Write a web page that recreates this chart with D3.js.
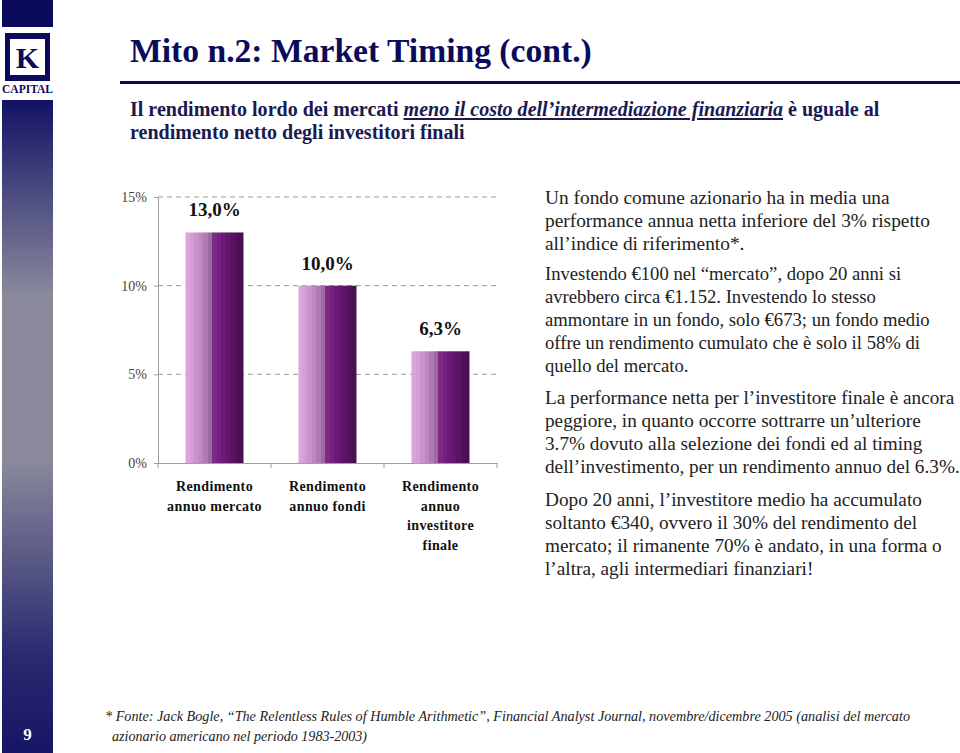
<!DOCTYPE html>
<html><head><meta charset="utf-8">
<script src="https://cdn.jsdelivr.net/npm/d3@7"></script>
<style>html,body{margin:0;padding:0;background:#fff;overflow:hidden} text{font-family:'Liberation Serif','Times New Roman',Times,serif}</style>
</head><body>
<svg id="c" width="960" height="753"></svg>
<script>
// ---- data ----
const categories = ["Rendimento\nannuo mercato", "Rendimento\nannuo fondi", "Rendimento\nannuo\ninvestitore\nfinale"];
const values = [13.0, 10.0, 6.3];
const valueLabels = ["13,0%", "10,0%", "6,3%"];
const yTicks = [0, 5, 10, 15];
const yTickLabels = ["0%", "5%", "10%", "15%"];

const navy = "#0b0b5c";
const FONT = "'Liberation Serif','Times New Roman',Times,serif";
const svg = d3.select("#c");
const defs = svg.append("defs");

// sidebar gradient
const sg = defs.append("linearGradient").attr("id","side").attr("x1",0).attr("y1",0).attr("x2",0).attr("y2",1);
[[0,"#121266"],[0.3,"#8a8a9c"],[0.55,"#8a8a9c"],[0.85,"#2a2a70"],[1,"#151565"]].forEach(s=>sg.append("stop").attr("offset",s[0]).attr("stop-color",s[1]));

// bar gradient (stripes)
const bg = defs.append("linearGradient").attr("id","bar").attr("x1",0).attr("y1",0).attr("x2",1).attr("y2",0);
const stripes = ["#dca4de","#d59cd8","#c992cc","#bd88c0","#ad7ab2","#9e6aa2","#7c2a84","#742080","#6c1a76","#62166c","#5a1464","#52105a","#4a0e52"];
stripes.forEach((c,i)=>{
  bg.append("stop").attr("offset",i/stripes.length).attr("stop-color",c);
  bg.append("stop").attr("offset",(i+1)/stripes.length).attr("stop-color",c);
});

// ---- sidebar / logo ----
svg.append("rect").attr("x",2).attr("y",0).attr("width",51).attr("height",27).attr("fill",navy);
svg.append("rect").attr("x",5).attr("y",33).attr("width",45).attr("height",48).attr("fill",navy);
svg.append("rect").attr("x",10).attr("y",39).attr("width",35).attr("height",36).attr("fill","#fff");
svg.append("text").attr("x",27.5).attr("y",68).attr("text-anchor","middle").attr("font-family",FONT).attr("font-weight","bold").attr("font-size",30).attr("fill",navy).text("K");
svg.append("text").attr("x",27.5).attr("y",93).attr("text-anchor","middle").attr("font-family",FONT).attr("font-weight","bold").attr("font-size",11.5).attr("fill",navy).text("CAPITAL");
svg.append("rect").attr("x",2).attr("y",100).attr("width",51).attr("height",653).attr("fill","url(#side)");
svg.append("text").attr("x",27.5).attr("y",740).attr("text-anchor","middle").attr("font-family",FONT).attr("font-weight","bold").attr("font-size",17).attr("fill","#fff").text("9");

function fit(sel, w){
  const n = sel.node(); const fs = parseFloat(sel.attr("font-size"));
  const m = n.getComputedTextLength(); sel.attr("font-size", fs*w/m);
}

// ---- title ----
const title = svg.append("text").attr("x",130).attr("y",62).attr("font-family",FONT).attr("font-weight","bold").attr("font-size",34).attr("fill",navy).text("Mito n.2: Market Timing (cont.)");
fit(title, 462);
svg.append("rect").attr("x",120).attr("y",81).attr("width",840).attr("height",3).attr("fill",navy);

const sub1 = svg.append("text").attr("x",130).attr("y",116).attr("font-family",FONT).attr("font-weight","bold").attr("font-size",18).attr("fill","#1a1a50");
sub1.append("tspan").text("Il rendimento lordo dei mercati ");
sub1.append("tspan").attr("font-style","italic").attr("text-decoration","underline").text("meno il costo dell’intermediazione finanziaria");
sub1.append("tspan").text(" è uguale al");
fit(sub1, 750);
svg.append("text").attr("x",130).attr("y",139).attr("font-family",FONT).attr("font-weight","bold").attr("font-size",sub1.attr("font-size")).attr("fill","#1a1a50").text("rendimento netto degli investitori finali");

// ---- chart ----
const x = d3.scaleBand().domain(categories).range([158,497]).paddingInner(0.487).paddingOuter(0.2435);
const y = d3.scaleLinear().domain([0,15]).range([463,197]);
const g = svg.append("g");

g.selectAll("line.grid").data(yTicks.filter(d=>d>0)).join("line")
  .attr("x1",158).attr("x2",497).attr("y1",d=>y(d)).attr("y2",d=>y(d))
  .attr("stroke","#9a9a9a").attr("stroke-width",1).attr("stroke-dasharray","5,4");

const ya = g.append("g").attr("transform","translate(158,0)").call(d3.axisLeft(y).tickValues(yTicks).tickFormat((d,i)=>yTickLabels[i]).tickSize(4).tickPadding(7));
ya.select(".domain").attr("stroke","#a0a0a0");
ya.selectAll(".tick line").attr("stroke","#a0a0a0");
ya.selectAll(".tick text").attr("font-family",FONT).attr("font-size",14).attr("fill","#444");

const xa = g.append("g").attr("transform","translate(0,463)").call(d3.axisBottom(x).tickSize(0).tickFormat(""));
xa.select(".domain").attr("stroke","#a0a0a0");
const bounds = [158, 158+113, 158+226, 497];
g.selectAll("line.xt").data(bounds).join("line").attr("x1",d=>d).attr("x2",d=>d).attr("y1",463).attr("y2",468).attr("stroke","#a0a0a0");

g.selectAll("rect.bar").data(values).join("rect")
  .attr("x",(d,i)=>x(categories[i])).attr("width",x.bandwidth())
  .attr("y",d=>y(d)).attr("height",d=>y(0)-y(d)).attr("fill","url(#bar)");

g.selectAll("text.val").data(values).join("text")
  .attr("x",(d,i)=>x(categories[i])+x.bandwidth()/2).attr("y",d=>y(d)-16)
  .attr("text-anchor","middle").attr("font-family",FONT).attr("font-weight","bold").attr("font-size",19).attr("fill","#111")
  .text((d,i)=>valueLabels[i]);

categories.forEach((c,i)=>{
  const t = g.append("text").attr("text-anchor","middle").attr("font-family",FONT).attr("font-weight","bold").attr("font-size",14).attr("letter-spacing",0.4).attr("fill","#111");
  c.split("\n").forEach((ln,j)=>t.append("tspan").attr("x",x(c)+x.bandwidth()/2).attr("y",491+j*19.5).text(ln));
});

// ---- right text ----
const paras = [
  {y:204, lh:23, fs:17, lines:["Un fondo comune azionario ha in media una","performance annua netta inferiore del 3% rispetto","all’indice di riferimento*."]},
  {y:280, lh:23, fs:17, lines:["Investendo €100 nel “mercato”, dopo 20 anni si","avrebbero circa €1.152. Investendo lo stesso","ammontare in un fondo, solo €673; un fondo medio","offre un rendimento cumulato che è solo il 58% di","quello del mercato."]},
  {y:404, lh:23, fs:17, lines:["La performance netta per l’investitore finale è ancora","peggiore, in quanto occorre sottrarre un’ulteriore","3.7% dovuto alla selezione dei fondi ed al timing","dell’investimento, per un rendimento annuo del 6.3%."]},
  {y:506, lh:23, fs:18, lines:["Dopo 20 anni, l’investitore medio ha accumulato","soltanto €340, ovvero il 30% del rendimento del","mercato; il rimanente 70% è andato, in una forma o","l’altra, agli intermediari finanziari!"]}
];
const widthRef = [385, 385, 415, 397];
const refLine = [1, 2, 3, 2];
paras.forEach((p,k)=>{
  const t = svg.append("text").attr("font-family",FONT).attr("font-size",p.fs).attr("fill","#222");
  const sp = p.lines.map((ln,j)=>t.append("tspan").attr("x",545).attr("y",p.y+j*p.lh).text(ln));
  const m = sp[refLine[k]].node().getComputedTextLength();
  t.attr("font-size", p.fs*widthRef[k]/m);
});

// ---- footnote ----
const f1 = svg.append("text").attr("x",105).attr("y",721).attr("font-family",FONT).attr("font-style","italic").attr("font-size",15).attr("fill","#222")
  .text("* Fonte: Jack Bogle, “The Relentless Rules of Humble Arithmetic”, Financial Analyst Journal, novembre/dicembre 2005 (analisi del mercato");
f1.attr("textLength",805).attr("lengthAdjust","spacingAndGlyphs");
const f2 = svg.append("text").attr("x",112).attr("y",741).attr("font-family",FONT).attr("font-style","italic").attr("font-size",15).attr("fill","#222")
  .text("azionario americano nel periodo 1983-2003)");
f2.attr("textLength",255).attr("lengthAdjust","spacingAndGlyphs");
</script>
</body></html>
